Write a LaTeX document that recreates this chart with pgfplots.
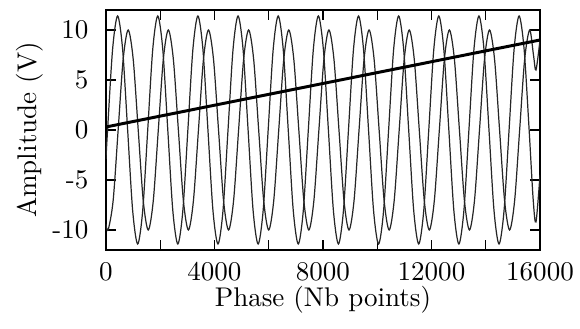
\documentclass[border=0pt]{standalone}
\usepackage{pgfplots}
\pgfplotsset{compat=1.18}
\begin{document}
\begin{tikzpicture}
\begin{axis}[
  scale only axis,
  width=160.6pt, height=88.8pt,
  xmin=0, xmax=16000, ymin=-12, ymax=12,
  xtick={0,4000,8000,12000,16000},
  minor xtick={2000,6000,10000,14000},
  ytick={-10,-5,0,5,10},
  yticklabels={-10,-5,0,5,10},
  scaled x ticks=false,
  /pgf/number format/1000 sep={},
  tick align=inside,
  major tick length=3.7pt, minor tick length=3.7pt,
  tick style={black, line width=0.4pt},
  axis line style={line width=0.6pt},
  yticklabel style={xshift=-3pt},
  xticklabel style={yshift=-1.2pt},
  xlabel={Phase (Nb points)},
  ylabel={Amplitude (V)},
  xlabel style={yshift=4.8pt},
  ylabel style={yshift=-3.5pt},
]
\addplot[black!85, line width=0.45pt, smooth] coordinates {
(0,-2.9)(60,0)(245,8.06)(430,11.4)(615,8.06)(800,0)(985,-8.06)(1170,-11.4)(1355,-8.06)
(1540,0)(1725,8.06)(1910,11.4)(2095,8.06)(2280,0)(2465,-8.06)(2650,-11.4)(2835,-8.06)
(3020,0)(3205,8.06)(3390,11.4)(3575,8.06)(3760,0)(3945,-8.06)(4130,-11.4)(4315,-8.06)
(4500,0)(4685,8.06)(4870,11.4)(5055,8.06)(5240,0)(5425,-8.06)(5610,-11.4)(5795,-8.06)
(5980,0)(6165,8.06)(6350,11.4)(6535,8.06)(6720,0)(6905,-8.06)(7090,-11.4)(7275,-8.06)
(7460,0)(7645,8.06)(7830,11.4)(8015,8.06)(8200,0)(8385,-8.06)(8570,-11.4)(8755,-8.06)
(8940,0)(9125,8.06)(9310,11.4)(9495,8.06)(9680,0)(9865,-8.06)(10050,-11.4)(10235,-8.06)
(10420,0)(10605,8.06)(10790,11.4)(10975,8.06)(11160,0)(11345,-8.06)(11530,-11.4)(11715,-8.06)
(11900,0)(12085,8.06)(12270,11.4)(12455,8.06)(12640,0)(12825,-8.06)(13010,-11.4)(13195,-8.06)
(13380,0)(13565,8.06)(13750,11.4)(13935,8.06)(14120,0)(14305,-8.06)(14490,-11.4)(14675,-8.06)
(14860,0)(15045,8.06)(15230,11.4)(15415,8.06)(15600,0)(15750,-7)(15852,-9.2)(16000,-4.5)
};
\addplot[black!85, line width=0.45pt, smooth] coordinates {
(0,-9.4)(80,-10)(265,-7.07)(450,0)(635,7.07)(820,10)(1005,7.07)(1190,0)(1375,-7.07)
(1560,-10)(1745,-7.07)(1930,0)(2115,7.07)(2300,10)(2485,7.07)(2670,0)(2855,-7.07)
(3040,-10)(3225,-7.07)(3410,0)(3595,7.07)(3780,10)(3965,7.07)(4150,0)(4335,-7.07)
(4520,-10)(4705,-7.07)(4890,0)(5075,7.07)(5260,10)(5445,7.07)(5630,0)(5815,-7.07)
(6000,-10)(6185,-7.07)(6370,0)(6555,7.07)(6740,10)(6925,7.07)(7110,0)(7295,-7.07)
(7480,-10)(7665,-7.07)(7850,0)(8035,7.07)(8220,10)(8405,7.07)(8590,0)(8775,-7.07)
(8960,-10)(9145,-7.07)(9330,0)(9515,7.07)(9700,10)(9885,7.07)(10070,0)(10255,-7.07)
(10440,-10)(10625,-7.07)(10810,0)(10995,7.07)(11180,10)(11365,7.07)(11550,0)(11735,-7.07)
(11920,-10)(12105,-7.07)(12290,0)(12475,7.07)(12660,10)(12845,7.07)(13030,0)(13215,-7.07)
(13400,-10)(13585,-7.07)(13770,0)(13955,7.07)(14140,10)(14325,7.07)(14510,0)(14695,-7.07)
(14880,-10)(15065,-7.07)(15250,0)(15435,7.07)(15620,10)(15760,7.5)(15852,6)(16000,9)
};
\addplot[black, line width=1.1pt] coordinates {(0,0.3)(16000,9.0)};
\end{axis}
\pgfresetboundingbox
\path[use as bounding box] ([xshift=-39.2pt,yshift=-29.2pt]current axis.south west) rectangle ([xshift=14.8pt,yshift=3.7pt]current axis.north east);
\end{tikzpicture}
\end{document}
